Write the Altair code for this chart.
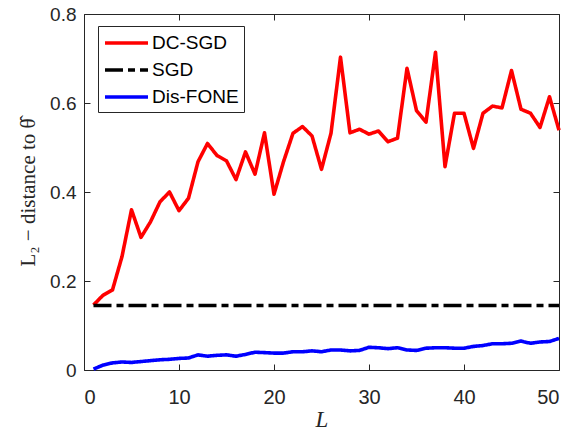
import altair as alt
import pandas as pd

L = list(range(1, 51))
dc_sgd = [0.146, 0.168, 0.180, 0.255, 0.360, 0.298, 0.333, 0.378, 0.400, 0.358,
          0.386, 0.468, 0.509, 0.482, 0.470, 0.428, 0.490, 0.440, 0.533, 0.395,
          0.468, 0.532, 0.547, 0.526, 0.451, 0.532, 0.703, 0.533, 0.541, 0.530,
          0.537, 0.513, 0.521, 0.678, 0.583, 0.557, 0.714, 0.457, 0.577, 0.577,
          0.498, 0.577, 0.593, 0.589, 0.673, 0.586, 0.577, 0.545, 0.614, 0.539]
sgd = [0.145] * 50
dis_fone = [0.002, 0.011, 0.016, 0.018, 0.017, 0.019, 0.021, 0.023, 0.024, 0.026,
            0.027, 0.034, 0.031, 0.033, 0.034, 0.031, 0.035, 0.040, 0.039, 0.038,
            0.038, 0.041, 0.041, 0.043, 0.041, 0.045, 0.045, 0.043, 0.044, 0.051,
            0.050, 0.048, 0.050, 0.045, 0.044, 0.049, 0.050, 0.050, 0.049, 0.049,
            0.053, 0.055, 0.059, 0.059, 0.060, 0.065, 0.060, 0.063, 0.064, 0.071]
methods = ["DC-SGD", "SGD", "Dis-FONE"]
colors = ["#ff0000", "#000000", "#0000ff"]
dashes = [[1, 0], [18, 5, 7, 5], [1, 0]]
x_ticks = [0, 10, 20, 30, 40, 50]
y_ticks = [0, 0.2, 0.4, 0.6, 0.8]

rows = []
for name, vals in zip(methods, [dc_sgd, sgd, dis_fone]):
    for l, v in zip(L, vals):
        rows.append({"L": l, "value": v, "method": name})
df = pd.DataFrame(rows)

AX = "#262626"
xs = alt.Scale(domain=[0, 50], nice=False)
ys = alt.Scale(domain=[0, 0.8], nice=False)

base = alt.Chart(df)

lines = base.mark_line(strokeWidth=3.6, strokeCap="butt", strokeJoin="round").encode(
    x=alt.X("L:Q", scale=xs,
            axis=alt.Axis(values=x_ticks, title="L", format="d", orient="bottom",
                          ticks=False, domain=False, labelPadding=17, labelFontSize=20,
                          titleFont="Liberation Serif", titleFontStyle="italic",
                          titleFontSize=23, titleFontWeight="normal",
                          titlePadding=1, titleColor=AX)),
    y=alt.Y("value:Q", scale=ys,
            axis=alt.Axis(values=y_ticks, title="L₂ − distance to θ̂", format=".1~f",
                          orient="left", ticks=False, domain=False,
                          labelPadding=8, labelFontSize=19,
                          titleFont="Liberation Serif", titleFontSize=21,
                          titleFontWeight="normal", titlePadding=11,
                          titleColor=AX)),
    color=alt.Color("method:N", scale=alt.Scale(domain=methods, range=colors),
                    legend=alt.Legend(title=None, orient="none", legendX=14, legendY=12,
                                      symbolType="M-1,0H3.3", symbolSize=400,
                                      symbolStrokeWidth=3.6, labelFontSize=19,
                                      labelFont="Liberation Sans", labelColor="#000000",
                                      labelOffset=25, rowPadding=5,
                                      strokeColor=AX, fillColor="white",
                                      padding=5, cornerRadius=0)),
    strokeDash=alt.StrokeDash("method:N",
                              scale=alt.Scale(domain=methods, range=dashes),
                              legend=None),
    detail="method:N",
)


def tick_layer(xo, yo):
    return base.mark_line(strokeOpacity=0).encode(
        x=alt.X("L:Q", scale=xs,
                axis=alt.Axis(values=x_ticks, title=None, orient=xo, labels=False,
                              domain=False, ticks=True, tickSize=6, offset=-6,
                              tickColor=AX, tickWidth=1)),
        y=alt.Y("value:Q", scale=ys,
                axis=alt.Axis(values=y_ticks, title=None, orient=yo, labels=False,
                              domain=False, ticks=True, tickSize=6, offset=-6,
                              tickColor=AX, tickWidth=1)),
        detail="method:N",
    )


chart = alt.layer(
    lines, tick_layer("bottom", "left"), tick_layer("top", "right")
).resolve_axis(x="independent", y="independent").properties(
    width=475, height=356,
    autosize=alt.AutoSizeParams(type="none"),
    padding={"left": 84, "top": 14, "right": 17, "bottom": 64},
).configure_view(
    stroke=AX, strokeWidth=1
).configure_axis(
    labelFont="Liberation Sans", labelColor=AX,
    domainColor=AX, grid=False,
)

chart.save("out.html", embed_options={"renderer": "svg", "actions": False})
